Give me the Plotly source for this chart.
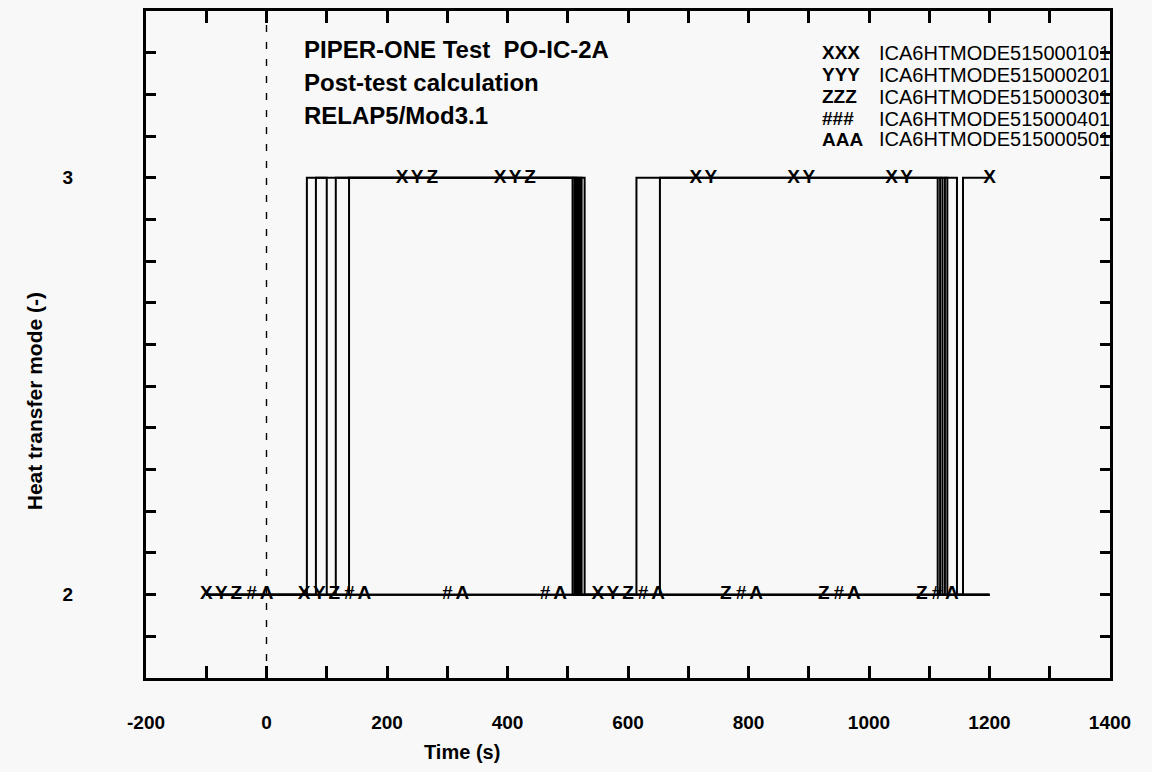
import numpy as np
import plotly.graph_objects as go

# Heat transfer mode histories: step-change times (s) and mode values
t_x = [-100, 67, 508, 614, 1146, 1156, 1200]
m_x = [2, 3, 2, 3, 2, 3, 3]
t_y = [-100, 115, 517, 653, 1114, 1200]
m_y = [2, 3, 2, 3, 2, 2]
t_z = [-100, 137, 528, 1200]
m_z = [2, 3, 2, 2]
t_h = [-100, 82, 100, 511, 514, 1118, 1122, 1200]
m_h = [2, 3, 2, 3, 2, 3, 2, 2]
t_a = [-100, 520, 523, 1126, 1130, 1200]
m_a = [2, 3, 2, 3, 2, 2]

series_names = ["ICA6HTMODE515000101", "ICA6HTMODE515000201", "ICA6HTMODE515000301",
                "ICA6HTMODE515000401", "ICA6HTMODE515000501"]
symbols = ["X", "Y", "Z", "#", "A"]
times = [t_x, t_y, t_z, t_h, t_a]
modes = [m_x, m_y, m_z, m_h, m_a]

x_tickvals = list(range(-200, 1401, 100))
x_ticktext = ["-200", "", "0", "", "200", "", "400", "", "600", "", "800", "",
              "1000", "", "1200", "", "1400"]
y_tickvals = [round(1.8 + 0.1 * k, 1) for k in range(17)]
y_ticktext = ["" if v not in (2.0, 3.0) else str(int(v)) for v in y_tickvals]

title_lines = ["PIPER-ONE Test  PO-IC-2A", "Post-test calculation", "RELAP5/Mod3.1"]

# plot-area geometry in pixels (used to place free text)
W, H = 1152, 772
L, R, T, B = 146, 1110, 8, 678
PW, PH = R - L, B - T


def px(x):
    return (x - L) / PW


def py(y):
    return 1 - (y - T) / PH


FONT = "Liberation Sans"
fig = go.Figure()

# Symbol spacing along each curve, as laid out by the plotting program
SYM_START, SYM_STEP, SYM_SHIFT, T_END = -100.0, 162.5, 25.0, 1200.0

for i, (t, m, sym, name) in enumerate(zip(times, modes, symbols, series_names)):
    fig.add_trace(go.Scatter(
        x=t, y=m, mode="lines", line=dict(color="black", width=2, shape="hv"),
        name=name, showlegend=False, hoverinfo="skip"))
    tm = np.arange(SYM_START + SYM_SHIFT * i, T_END + 0.01, SYM_STEP)
    idx = np.searchsorted(np.array(t), tm, side="right") - 1
    vm = np.array(m)[idx]
    fig.add_trace(go.Scatter(
        x=tm, y=vm, mode="text", text=[sym] * len(tm), textposition="middle center",
        textfont=dict(family=FONT, size=19, color="black", weight="bold"),
        showlegend=False, hoverinfo="skip"))

# dashed line at t = 0
fig.add_shape(type="line", x0=0, x1=0, y0=0, y1=1, xref="x", yref="paper",
              line=dict(color="black", width=1.4, dash="7px,10px"))

annotations = []
for k, line in enumerate(title_lines):
    annotations.append(dict(
        text=line, x=px(302), y=py([47, 80, 113][k]), xref="paper", yref="paper",
        xanchor="left", yanchor="middle", showarrow=False,
        font=dict(family=FONT, size=24, color="black", weight="bold")))

leg_y = [50, 72, 94, 116, 137]
for k, (sym, name) in enumerate(zip(symbols, series_names)):
    annotations.append(dict(
        text=sym * 3, x=px(820), y=py(leg_y[k]), xref="paper", yref="paper",
        xanchor="left", yanchor="middle", showarrow=False,
        font=dict(family=FONT, size=19, color="black", weight="bold")))
    annotations.append(dict(
        text=name, x=px(877), y=py(leg_y[k]), xref="paper", yref="paper",
        xanchor="left", yanchor="middle", showarrow=False,
        font=dict(family=FONT, size=20, color="black")))

annotations.append(dict(
    text="Time (s)", x=px(462), y=py(752), xref="paper", yref="paper",
    xanchor="center", yanchor="middle", showarrow=False,
    font=dict(family=FONT, size=20, color="black", weight="bold")))
annotations.append(dict(
    text="Heat transfer mode (-)", x=px(34), y=py(400), xref="paper", yref="paper",
    xanchor="center", yanchor="middle", showarrow=False, textangle=-90,
    font=dict(family=FONT, size=21, color="black", weight="bold")))

fig.update_layout(
    width=W, height=H,
    margin=dict(l=L, r=W - R, t=T, b=H - B, pad=0),
    paper_bgcolor="#f8f8f8", plot_bgcolor="#f8f8f8",
    showlegend=False, annotations=annotations,
    xaxis=dict(range=[-200, 1400], tickvals=x_tickvals, ticktext=x_ticktext,
               ticks="inside", ticklen=12, tickwidth=2.5, tickcolor="black",
               showline=True, linewidth=3, linecolor="black", mirror="ticks",
               showgrid=False, zeroline=False, ticklabelstandoff=25,
               tickfont=dict(family=FONT, size=19, color="black", weight="bold")),
    yaxis=dict(range=[1.8, 3.4], tickvals=y_tickvals, ticktext=y_ticktext,
               ticks="inside", ticklen=10, tickwidth=2.5, tickcolor="black",
               showline=True, linewidth=3, linecolor="black", mirror="ticks",
               showgrid=False, zeroline=False, ticklabelstandoff=66,
               tickfont=dict(family=FONT, size=19, color="black", weight="bold")),
)

fig.write_html("out.html")
